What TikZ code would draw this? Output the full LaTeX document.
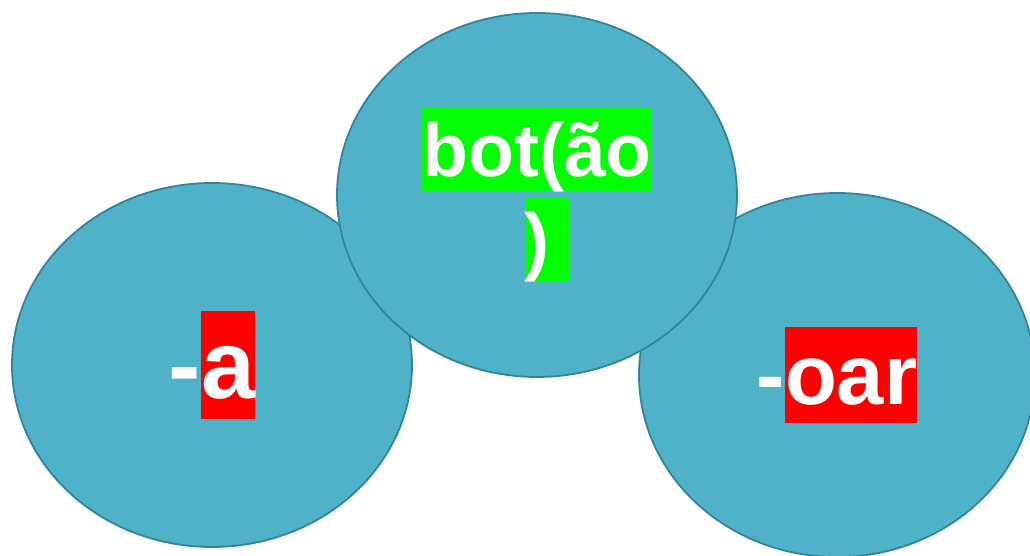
\documentclass[tikz,border=0pt]{standalone}
\usepackage{fontspec}
\setmainfont{Liberation Sans}
\usetikzlibrary{shapes.geometric}
\definecolor{blobfill}{RGB}{79,178,200}
\definecolor{blobline}{RGB}{49,132,155}
\definecolor{hlred}{RGB}{255,0,0}
\definecolor{hlgreen}{RGB}{0,255,0}
\newcommand{\hl}[2]{{\setlength{\fboxsep}{0pt}\colorbox{#1}{\rule[-0.21em]{0pt}{1.12em}#2}}}
\tikzset{blob/.style={ellipse,draw=blobline,fill=blobfill,line width=1.8pt,
    inner sep=0pt,minimum width=400pt,minimum height=364pt,text=white}}
\begin{document}
\begin{tikzpicture}[x=1pt,y=-1pt]
              \useasboundingbox (0,0) rectangle (1030,556);
              \node[blob,font=\bfseries\fontsize{97}{116}\selectfont] (suffa) at (212,365)
                  {-\hl{hlred}{a}};
              \node[blob,minimum width=396pt,font=\bfseries\fontsize{85}{102}\selectfont] (suffoar) at (837,375)
                  {-\hl{hlred}{oar}};
              \node[blob,align=center,font=\bfseries\fontsize{75}{90}\selectfont] (root) at (537,195)
                  {\hl{hlgreen}{bot(ão}\\\hl{hlgreen}{)\ }\kern-0.278em};
        \end{tikzpicture}
\end{document}
